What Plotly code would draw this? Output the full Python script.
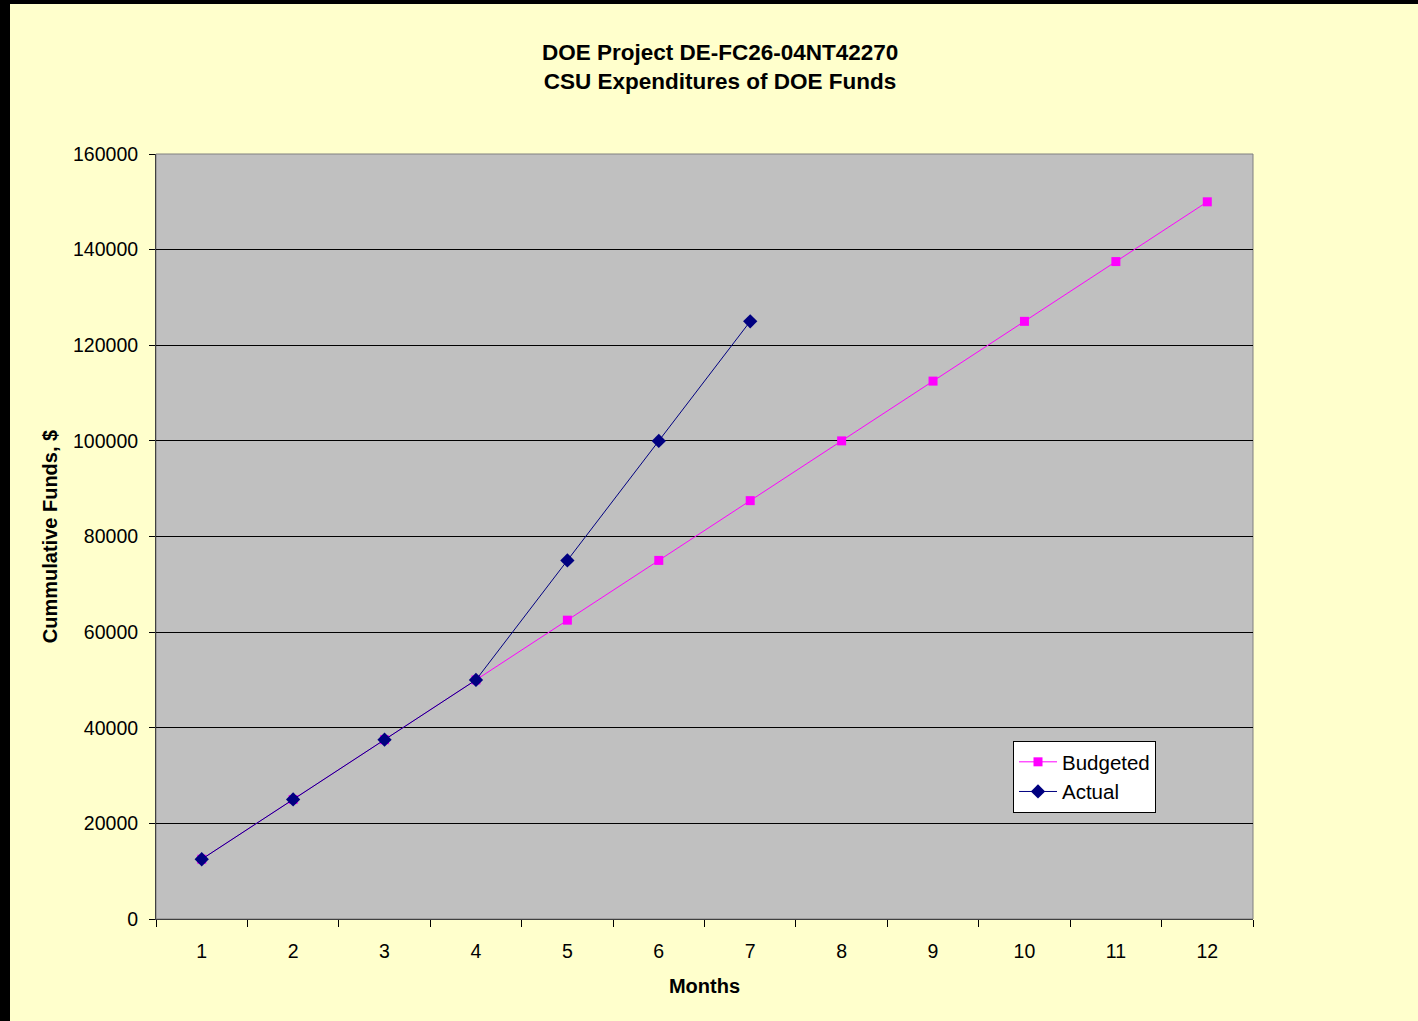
import plotly.graph_objects as go

months = ["1", "2", "3", "4", "5", "6", "7", "8", "9", "10", "11", "12"]
budgeted = [12500, 25000, 37500, 50000, 62500, 75000, 87500, 100000, 112500, 125000, 137500, 150000]
actual = [12500, 25000, 37500, 50000, 75000, 100000, 125000]
y_ticks = [0, 20000, 40000, 60000, 80000, 100000, 120000, 140000, 160000]

W, H = 1418, 1021
L, R, T, B = 156, 1253, 154, 919
pw, ph = R - L, B - T

def px(x):
    return (x - L) / pw

def py(y):
    return (B - y) / ph

FONT = "Arial, 'Liberation Sans', sans-serif"

fig = go.Figure()
fig.add_trace(go.Scatter(
    x=months, y=budgeted, name="Budgeted", mode="lines+markers",
    line=dict(color="#FF00FF", width=1),
    marker=dict(symbol="square", size=9, color="#FF00FF"),
))
fig.add_trace(go.Scatter(
    x=months[:len(actual)], y=actual, name="Actual", mode="lines+markers",
    line=dict(color="#000080", width=1),
    marker=dict(symbol="diamond", size=11, color="#000080"),
))

fig.update_layout(
    width=W, height=H, autosize=False,
    margin=dict(l=L, r=W - R, t=T, b=H - B, pad=0),
    paper_bgcolor="#FFFFCC",
    plot_bgcolor="#C0C0C0",
    font=dict(family=FONT, size=19.5, color="#000000"),
    title=dict(
        text="<b>DOE Project DE-FC26-04NT42270</b><br><b>CSU Expenditures of DOE Funds</b>",
        x=0.5 * (L + R) / W + 0.011, xanchor="center",
        y=1 - 60 / H, yanchor="top",
        font=dict(family=FONT, size=22.5, color="#000000"),
    ),
    showlegend=True,
    legend=dict(
        x=px(1013), y=py(741), xanchor="left", yanchor="top",
        bgcolor="#FFFFFF", bordercolor="#000000", borderwidth=1,
        font=dict(family=FONT, size=20.5, color="#000000"),
        tracegroupgap=0, itemwidth=38,
    ),
    xaxis=dict(
        type="category", categoryorder="array", categoryarray=months,
        range=[-0.5, 11.5],
        tickson="boundaries", ticks="outside", ticklen=7, tickcolor="#000000",
        ticklabelstandoff=15,
        showline=True, linecolor="#404040", linewidth=1,
        showgrid=False, zeroline=False,
        tickfont=dict(size=19.5),
        title=dict(text="<b>Months</b>", font=dict(size=20), standoff=17),
    ),
    yaxis=dict(
        range=[0, 160000], tickvals=y_ticks, ticktext=[str(v) for v in y_ticks],
        ticks="outside", ticklen=6, tickcolor="#000000",
        ticklabelstandoff=7,
        showline=True, linecolor="#404040", linewidth=1,
        showgrid=True, gridcolor="#000000", gridwidth=1,
        zeroline=False,
        tickfont=dict(size=19.5),
        title=dict(text="<b>Cummulative Funds, $</b>", font=dict(size=20), standoff=10),
    ),
    shapes=[
        dict(type="rect", xref="paper", yref="paper", x0=0, x1=1, y0=0, y1=1,
             line=dict(color="#808080", width=1), fillcolor="rgba(0,0,0,0)", layer="below"),
        dict(type="rect", xref="paper", yref="paper",
             x0=px(0), x1=px(10), y0=py(H), y1=py(0),
             line=dict(width=0), fillcolor="#000000"),
        dict(type="rect", xref="paper", yref="paper",
             x0=px(0), x1=px(W), y0=py(4), y1=py(0),
             line=dict(width=0), fillcolor="#000000"),
    ],
)

fig.write_html("out.html")
